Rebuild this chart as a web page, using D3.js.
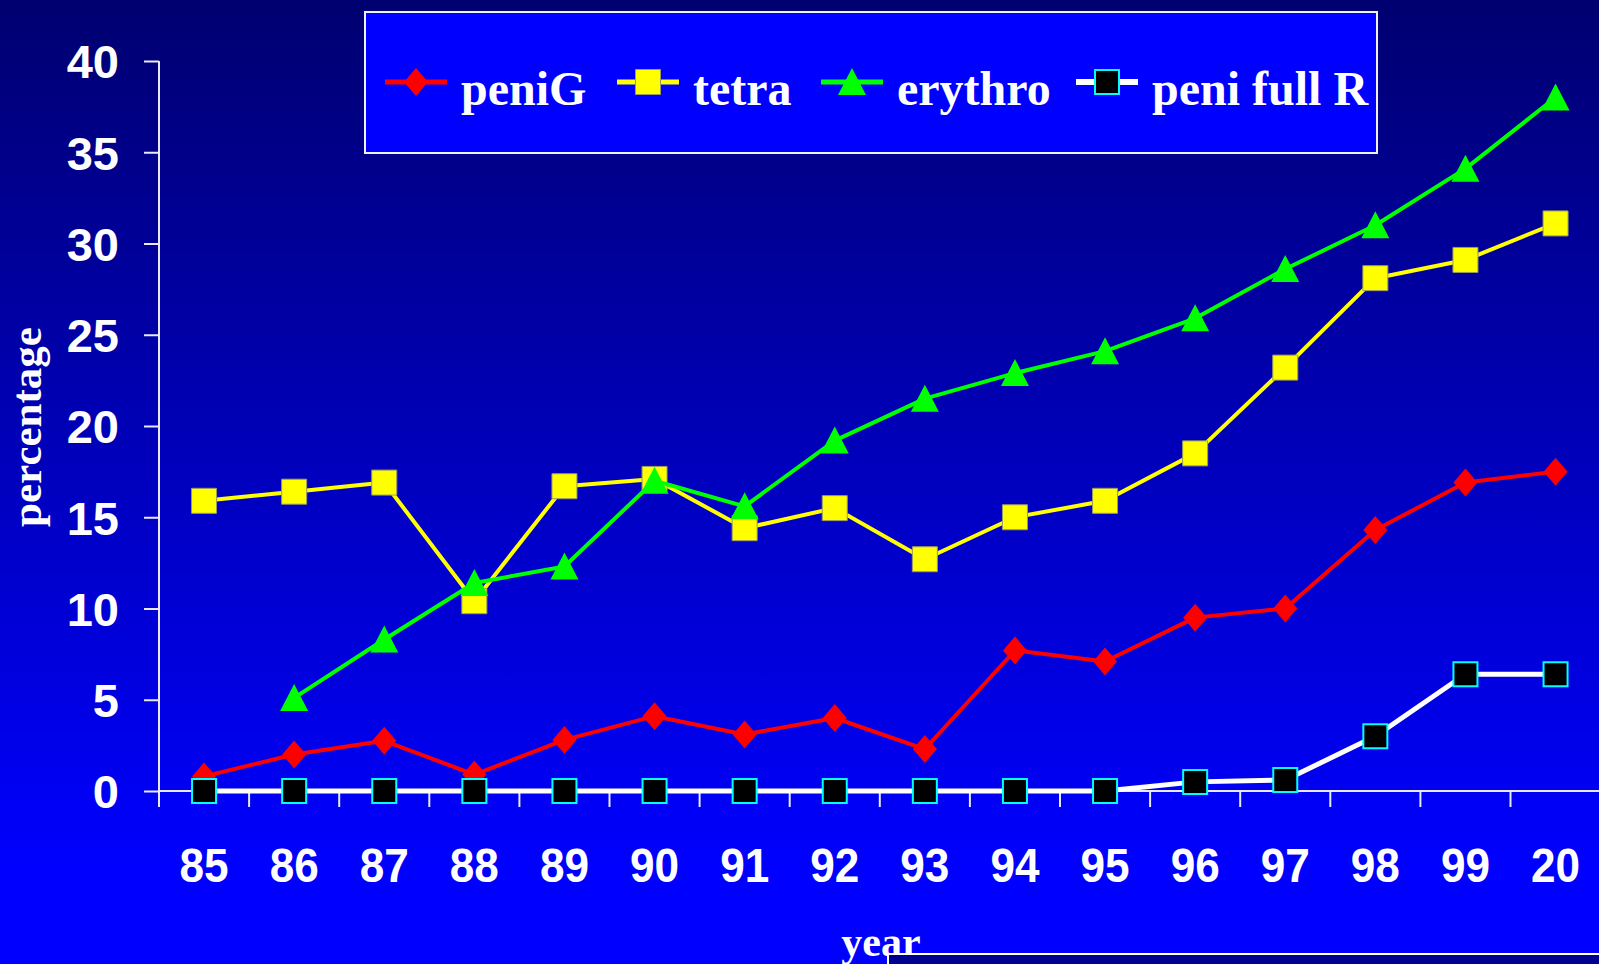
<!DOCTYPE html>
<html>
<head>
<meta charset="utf-8">
<script src="https://cdn.jsdelivr.net/npm/d3@7"></script>
<style>
  html, body { margin: 0; padding: 0; background: #0000ff; overflow: hidden; }
  svg { display: block; }
</style>
</head>
<body>
<svg id="chart" width="1599" height="964"></svg>
<script>
// ---------- data ----------
const years = ["85","86","87","88","89","90","91","92","93","94","95","96","97","98","99","20"];
const peniG = [0.8, 2.0, 2.75, 0.9, 2.8, 4.1, 3.1, 4.0, 2.3, 7.7, 7.1, 9.5, 10.0, 14.3, 16.9, 17.5];
const tetra = [15.9, 16.4, 16.9, 10.4, 16.7, 17.1, 14.4, 15.5, 12.7, 15.0, 15.9, 18.5, 23.2, 28.1, 29.1, 31.1];
const erythro = [null, 5.1, 8.3, 11.4, 12.3, 17.0, 15.6, 19.2, 21.5, 22.9, 24.1, 25.9, 28.6, 31.0, 34.1, 38.0];
const peniFullR = [0, 0, 0, 0, 0, 0, 0, 0, 0, 0, 0, 0.5, 0.6, 3.0, 6.4, 6.4];
const seriesNames = ["peniG", "tetra", "erythro", "peni full R"];
const yTicks = [0, 5, 10, 15, 20, 25, 30, 35, 40];
const yLabel = "percentage";
const xLabel = "year";

// ---------- layout ----------
const W = 1599, H = 964;
const svg = d3.select("#chart");

const defs = svg.append("defs");
const grad = defs.append("linearGradient").attr("id", "bg").attr("x1", 0).attr("y1", 0).attr("x2", 0).attr("y2", 1);
grad.append("stop").attr("offset", "0%").attr("stop-color", "#000070");
grad.append("stop").attr("offset", "90%").attr("stop-color", "#0000ff");
grad.append("stop").attr("offset", "100%").attr("stop-color", "#0000ff");
svg.append("rect").attr("width", W).attr("height", H).attr("fill", "url(#bg)");

const axisLeftX = 159;
const step = 90.1;
const x = d3.scaleBand().domain(years).range([axisLeftX, axisLeftX + step * years.length]).paddingInner(0).paddingOuter(0);
const y = d3.scaleLinear().domain([0, 40]).range([791, 61]);
const cx = d => x(d) + x.bandwidth() / 2;

const axisColor = "#e8e8ff";

// y axis
const yAxis = svg.append("g").attr("transform", `translate(${axisLeftX},0)`)
  .call(d3.axisLeft(y).tickValues(yTicks).tickSize(15).tickPadding(25).tickFormat(d3.format("d")));
yAxis.select(".domain").remove();
yAxis.selectAll(".tick line").attr("stroke", axisColor).attr("stroke-width", 2);
yAxis.selectAll(".tick text")
  .attr("fill", "#ffffff")
  .attr("font-family", "'Liberation Sans', Arial, sans-serif")
  .attr("font-weight", "bold")
  .attr("font-size", 47)
  .attr("dy", "0.36em");
svg.append("line").attr("x1", axisLeftX).attr("x2", axisLeftX).attr("y1", y(40)).attr("y2", y(0) + 16)
  .attr("stroke", axisColor).attr("stroke-width", 2);

// x axis: boundary ticks
svg.append("line").attr("x1", axisLeftX).attr("x2", W).attr("y1", y(0)).attr("y2", y(0))
  .attr("stroke", axisColor).attr("stroke-width", 2);
svg.append("g").selectAll("line").data(years.slice(1)).join("line")
  .attr("x1", d => x(d)).attr("x2", d => x(d))
  .attr("y1", y(0)).attr("y2", y(0) + 16)
  .attr("stroke", axisColor).attr("stroke-width", 2);

// x axis labels via axis
const xAxis = svg.append("g").attr("transform", `translate(0,${y(0)})`)
  .call(d3.axisBottom(x).tickSize(0).tickPadding(0));
xAxis.select(".domain").remove();
xAxis.selectAll(".tick text")
  .attr("fill", "#ffffff")
  .attr("font-family", "'Liberation Sans', Arial, sans-serif")
  .attr("font-weight", "bold")
  .attr("font-size", 49)
  .attr("y", 91)
  .attr("dy", 0)
  .attr("transform", "scale(0.9,1)");

// axis titles
svg.append("text")
  .attr("transform", "translate(41,427) rotate(-90)")
  .attr("text-anchor", "middle")
  .attr("fill", "#ffffff")
  .attr("font-family", "'Liberation Serif', 'Times New Roman', serif")
  .attr("font-weight", "bold")
  .attr("font-size", 43)
  .text(yLabel);

svg.append("text")
  .attr("x", 881).attr("y", 956)
  .attr("text-anchor", "middle")
  .attr("fill", "#ffffff")
  .attr("font-family", "'Liberation Serif', 'Times New Roman', serif")
  .attr("font-weight", "bold")
  .attr("font-size", 42)
  .text(xLabel);

// bottom-right box
svg.append("rect").attr("x", 888).attr("y", 954).attr("width", 800).attr("height", 60)
  .attr("fill", "#000090").attr("stroke", "#ffffff").attr("stroke-width", 2);

// ---------- series ----------
const series = [
  { name: seriesNames[0], values: peniG, line: "#ff0000", width: 4, marker: "diamond", fill: "#ff0000", stroke: "none" },
  { name: seriesNames[1], values: tetra, line: "#ffff00", width: 4, marker: "square", fill: "#ffff00", stroke: "#9a9a60" },
  { name: seriesNames[2], values: erythro, line: "#00ff00", width: 4, marker: "triangle", fill: "#00ff00", stroke: "none" },
  { name: seriesNames[3], values: peniFullR, line: "#ffffff", width: 5, marker: "blacksq", fill: "#000000", stroke: "#00ffff" }
];

function markerPath(type) {
  if (type === "diamond") return "M0,-14 L12,0 L0,14 L-12,0 Z";
  if (type === "square") return "M-12.5,-12.5 H12.5 V12.5 H-12.5 Z";
  if (type === "triangle") return "M0,-14 L14,13 L-14,13 Z";
  return "M-12,-12 H12 V12 H-12 Z";
}

const lineGen = d3.line()
  .defined(d => d.v !== null)
  .x(d => cx(d.year))
  .y(d => y(d.v));

series.forEach(s => {
  const pts = years.map((yr, i) => ({ year: yr, v: s.values[i] }));
  const g = svg.append("g");
  g.append("path").datum(pts)
    .attr("d", lineGen)
    .attr("fill", "none")
    .attr("stroke", s.line)
    .attr("stroke-width", s.width)
    .attr("stroke-linejoin", "round");
  g.selectAll("path.m").data(pts.filter(d => d.v !== null)).join("path")
    .attr("class", "m")
    .attr("transform", d => `translate(${cx(d.year)},${y(d.v)})`)
    .attr("d", markerPath(s.marker))
    .attr("fill", s.fill)
    .attr("stroke", s.stroke)
    .attr("stroke-width", s.marker === "blacksq" ? 2 : 1);
});

// ---------- legend ----------
const legend = svg.append("g");
legend.append("rect").attr("x", 365).attr("y", 12).attr("width", 1012).attr("height", 141)
  .attr("fill", "#0000ff").attr("stroke", "#f0f0ff").attr("stroke-width", 2);
const legendX = [385, 617, 821, 1076];
series.forEach((s, i) => {
  const lx = legendX[i];
  const ly = 82;
  legend.append("line").attr("x1", lx).attr("x2", lx + 62).attr("y1", ly).attr("y2", ly)
    .attr("stroke", s.line).attr("stroke-width", s.width + 1);
  legend.append("path").attr("transform", `translate(${lx + 31},${ly})`)
    .attr("d", markerPath(s.marker))
    .attr("fill", s.fill).attr("stroke", s.stroke)
    .attr("stroke-width", s.marker === "blacksq" ? 2 : 1);
  legend.append("text")
    .attr("x", lx + 76).attr("y", 105)
    .attr("fill", "#ffffff")
    .attr("font-family", "'Liberation Serif', 'Times New Roman', serif")
    .attr("font-weight", "bold")
    .attr("font-size", 48)
    .text(s.name);
});
</script>
</body>
</html>
